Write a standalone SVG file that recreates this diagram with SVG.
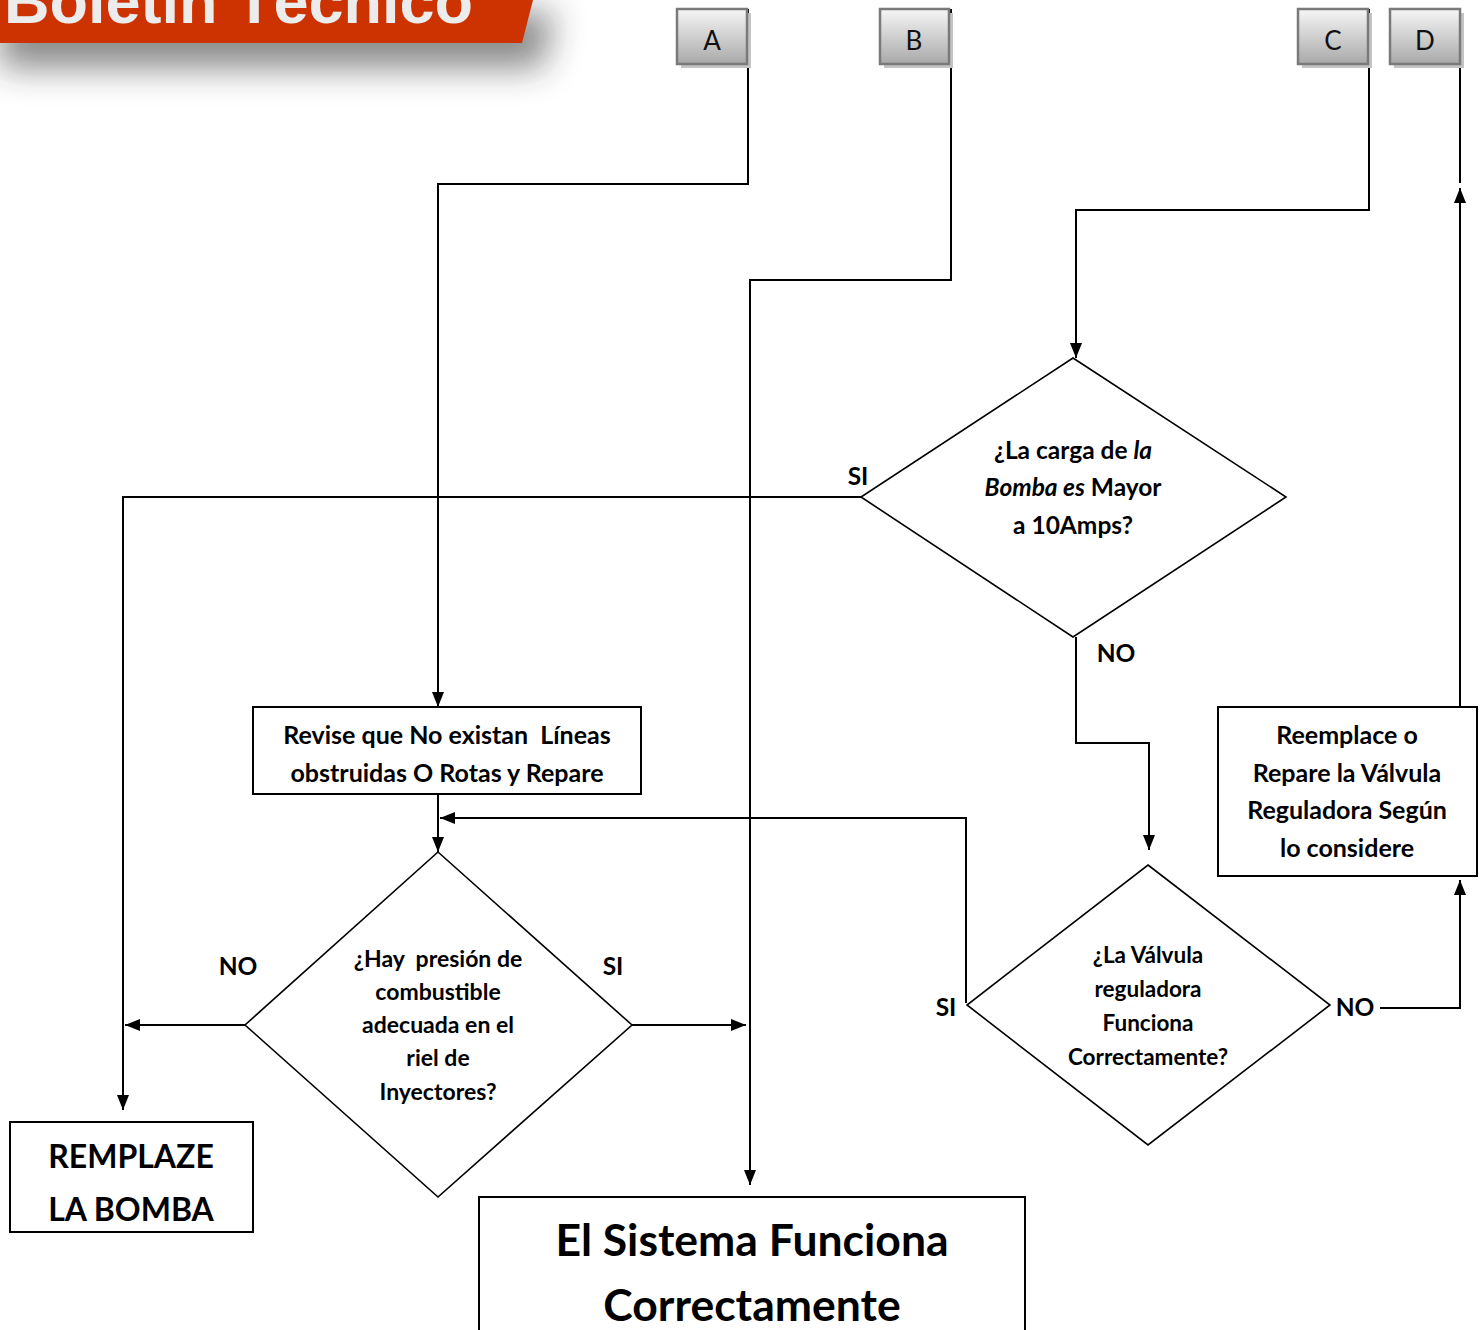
<svg xmlns="http://www.w3.org/2000/svg" width="1483" height="1330" viewBox="0 0 1483 1330">
<defs>
<linearGradient id="btn" x1="0" y1="0" x2="0" y2="1">
<stop offset="0" stop-color="#f6f6f6"/>
<stop offset="1" stop-color="#a9a9a9"/>
</linearGradient>
<filter id="blur" x="-20%" y="-80%" width="140%" height="300%">
<feGaussianBlur stdDeviation="17"/>
</filter>
<marker id="ah" viewBox="0 0 15 12" refX="15" refY="6" markerWidth="15" markerHeight="12" markerUnits="userSpaceOnUse" orient="auto">
<path d="M0,0 L15,6 L0,12 Z" fill="#000"/>
</marker>
</defs>
<style>
.t{font-family:Lato,"Open Sans","Liberation Sans",sans-serif;font-weight:bold;fill:#000;text-anchor:middle;white-space:pre}
.lbl{font-size:24.5px}
.node{fill:#fff;stroke:#000;stroke-width:2}
.dia{fill:#fff;stroke:#000;stroke-width:1.6}
.con{fill:none;stroke:#000;stroke-width:2}
.btnr{fill:url(#btn);stroke:#7a7a7a;stroke-width:2.5}
.btns{fill:#c4c4c4}
.btnt{font-family:Lato,"Open Sans","Liberation Sans",sans-serif;font-size:26px;fill:#111;text-anchor:middle}
</style>
<rect width="1483" height="1330" fill="#fff"/>

<g id="banner">
<polygon points="0,12 555,12 542,68 0,68" fill="#2a2a2a" opacity="0.55" filter="url(#blur)"/>
<polygon points="0,0 533,0 522,43 0,43" fill="#cc3300"/>
<text x="4" y="23" font-family="'Liberation Sans',Arial,sans-serif" font-weight="bold" font-size="63" fill="#ececec">Boletín Técnico</text>
</g>

<g id="conectores">
<path class="con" d="M748,9 V184 H438 V707" marker-end="url(#ah)"/>
<path class="con" d="M951,9 V280 H750 V1185" marker-end="url(#ah)"/>
<path class="con" d="M1369,9 V210 H1076 V358" marker-end="url(#ah)"/>
<path class="con" d="M1460,9 V183" stroke-width="1.6"/>
<path class="con" d="M1460,707 V188" marker-end="url(#ah)"/>
<path class="con" d="M861,497 H123 V1110" marker-end="url(#ah)"/>
<path class="con" d="M1076,637 V743 H1149 V850" marker-end="url(#ah)"/>
<path class="con" d="M438,794 V852" marker-end="url(#ah)"/>
<path class="con" d="M966,1003 V818 H440" marker-end="url(#ah)"/>
<path class="con" d="M245,1025 H125" marker-end="url(#ah)"/>
<path class="con" d="M632,1025 H746" marker-end="url(#ah)"/>
<path class="con" d="M1380,1008 H1460 V880" marker-end="url(#ah)"/>
</g>

<g id="nodo-A">
<rect class="btns" x="681" y="13" width="70" height="55"/>
<rect class="btnr" x="677" y="9" width="70" height="55"/>
<text class="btnt" x="712" y="50">A</text>
</g>
<g id="nodo-B">
<rect class="btns" x="884" y="13" width="69" height="55"/>
<rect class="btnr" x="880" y="9" width="69" height="55"/>
<text class="btnt" x="914" y="50">B</text>
</g>
<g id="nodo-C">
<rect class="btns" x="1302" y="13" width="70" height="55"/>
<rect class="btnr" x="1298" y="9" width="70" height="55"/>
<text class="btnt" x="1333" y="50">C</text>
</g>
<g id="nodo-D">
<rect class="btns" x="1394" y="13" width="70" height="55"/>
<rect class="btnr" x="1390" y="9" width="70" height="55"/>
<text class="btnt" x="1425" y="50">D</text>
</g>

<g id="decision-carga">
<polygon class="dia" points="1073,358 1286,497 1073,637 861,497"/>
<text class="t" font-size="24.5"><tspan x="1073" y="459">¿La carga de <tspan font-style="italic">la</tspan></tspan><tspan x="1073" y="496"><tspan font-style="italic">Bomba es</tspan> Mayor</tspan><tspan x="1073" y="534">a 10Amps?</tspan></text>
</g>

<g id="revise-lineas">
<rect class="node" x="253" y="707" width="388" height="87"/>
<text class="t" font-size="25" xml:space="preserve"><tspan x="447" y="744">Revise que No existan  Líneas</tspan><tspan x="447" y="782">obstruidas O Rotas y Repare</tspan></text>
</g>

<g id="decision-presion">
<polygon class="dia" points="438,852 632,1025 438,1197 245,1025"/>
<text class="t" font-size="23" xml:space="preserve"><tspan x="438" y="967">¿Hay  presión de</tspan><tspan x="438" y="1000">combustible</tspan><tspan x="438" y="1033">adecuada en el</tspan><tspan x="438" y="1066">riel de</tspan><tspan x="438" y="1100">Inyectores?</tspan></text>
</g>

<g id="decision-valvula">
<polygon class="dia" points="1148,865 1330,1005 1148,1145 967,1005"/>
<text class="t" font-size="22.5"><tspan x="1148" y="963">¿La Válvula</tspan><tspan x="1148" y="997">reguladora</tspan><tspan x="1148" y="1031">Funciona</tspan><tspan x="1148" y="1065">Correctamente?</tspan></text>
</g>

<g id="reemplace-valvula">
<rect class="node" x="1218" y="707" width="259" height="169"/>
<text class="t" font-size="25"><tspan x="1347" y="744">Reemplace o</tspan><tspan x="1347" y="782">Repare la Válvula</tspan><tspan x="1347" y="819">Reguladora Según</tspan><tspan x="1347" y="857">lo considere</tspan></text>
</g>

<g id="remplaze-bomba">
<rect class="node" x="10" y="1122" width="243" height="110"/>
<text class="t" font-size="32"><tspan x="131" y="1168">REMPLAZE</tspan><tspan x="131" y="1221">LA BOMBA</tspan></text>
</g>

<g id="sistema-funciona">
<rect class="node" x="479" y="1197" width="546" height="150"/>
<text class="t" font-size="44.5"><tspan x="752" y="1256">El Sistema Funciona</tspan><tspan x="752" y="1321">Correctamente</tspan></text>
</g>

<g id="etiquetas">
<text class="t lbl" x="858" y="485">SI</text>
<text class="t lbl" x="1116" y="662">NO</text>
<text class="t lbl" x="238" y="975">NO</text>
<text class="t lbl" x="613" y="975">SI</text>
<text class="t lbl" x="946" y="1016">SI</text>
<text class="t lbl" x="1355" y="1016">NO</text>
</g>
</svg>
